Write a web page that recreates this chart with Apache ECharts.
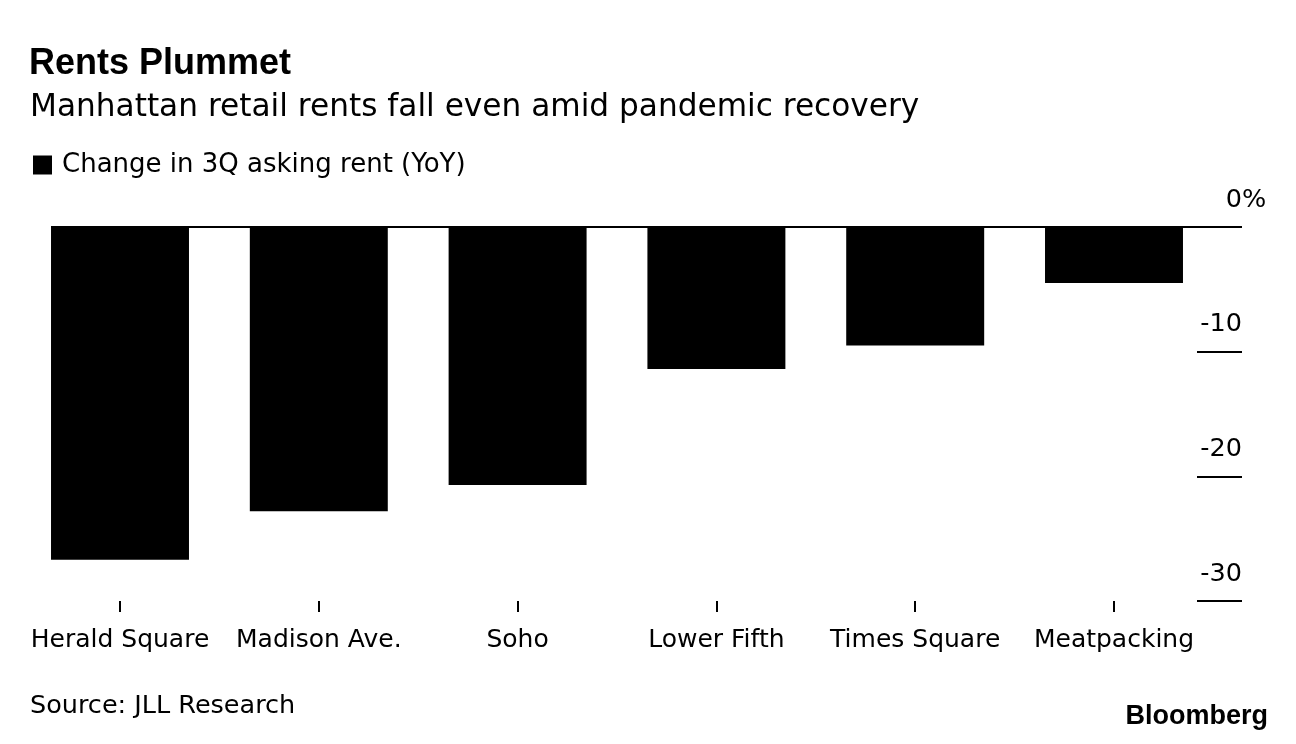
<!DOCTYPE html>
<html>
<head>
<meta charset="utf-8">
<script src="https://cdn.jsdelivr.net/npm/echarts@6/dist/echarts.min.js"></script>
<style>
html,body{margin:0;padding:0;background:#fff;}
#c{width:1296px;height:744px;}
</style>
</head>
<body>
<div id="c"></div>
<script>
const categories = ['Herald Square', 'Madison Ave.', 'Soho', 'Lower Fifth', 'Times Square', 'Meatpacking'];
const rentChange = [-26.7, -22.8, -20.7, -11.4, -9.5, -4.5];
const yTicks = { min: -30, max: 0, interval: 10 };
const seriesName = 'Change in 3Q asking rent (YoY)';

const BOLD = '"Liberation Sans", Arial, Helvetica, sans-serif';
const FONT = '"DejaVu Sans", "Liberation Sans", Arial, sans-serif';
const chart = echarts.init(document.getElementById('c'), null, { renderer: 'canvas' });

chart.setOption({
  animation: false,
  backgroundColor: '#fff',
  textStyle: { fontFamily: FONT, color: '#000' },
  title: [
    { text: 'Rents Plummet', left: 24, top: 41, textStyle: { fontFamily: BOLD, fontSize: 36, fontWeight: 'bold', color: '#000' } },
    { text: 'Manhattan retail rents fall even amid pandemic recovery', left: 25, top: 87, textStyle: { fontFamily: FONT, fontSize: 31.2, fontWeight: 'normal', color: '#000' } },
    { text: 'Source: JLL Research', left: 25, top: 688, textStyle: { fontFamily: FONT, fontSize: 25.5, fontWeight: 'normal', color: '#000' } },
    { text: 'Bloomberg', right: 23, top: 698, textStyle: { fontFamily: BOLD, fontSize: 27, fontWeight: 'bold', color: '#000' } }
  ],
  legend: {
    left: 28, top: 147, icon: 'rect', itemWidth: 19, itemHeight: 19,
    data: [seriesName],
    textStyle: { fontFamily: FONT, fontSize: 26, color: '#000', padding: [0, 0, 0, 5] },
    selectedMode: false
  },
  grid: { left: 20.6, right: 82.6, top: 227, bottom: 143, containLabel: false },
  xAxis: {
    type: 'category',
    data: categories,
    position: 'bottom',
    axisLine: { show: false, onZero: false },
    axisTick: { show: true, alignWithLabel: true, length: 11, lineStyle: { color: '#000', width: 2 } },
    axisLabel: { fontFamily: FONT, fontSize: 25, color: '#000', margin: 27, interval: 0 }
  },
  yAxis: {
    type: 'value',
    position: 'right',
    offset: -16.4,
    min: yTicks.min, max: yTicks.max, interval: yTicks.interval,
    axisLine: { show: false },
    splitLine: { show: false },
    axisTick: { show: true, inside: false, length: 45, lineStyle: { color: '#000', width: 2 } },
    axisLabel: {
      color: '#000', align: 'right', margin: 69,
      verticalAlign: 'bottom', padding: [0, 0, 14, 0],
      formatter: v => (v === 0 ? '{n|0}{s|%}' : '{n|' + v + '}{s| }'),
      rich: {
        n: { fontFamily: FONT, fontSize: 25.5, color: '#000', lineHeight: 26 },
        s: { fontFamily: FONT, fontSize: 25.5, color: '#000', lineHeight: 26, width: 24, align: 'left' }
      }
    }
  },
  series: [{
    name: seriesName,
    type: 'bar',
    data: rentChange,
    barCategoryGap: '30.6%',
    itemStyle: { color: '#000' },
    markLine: {
      silent: true, symbol: 'none', label: { show: false },
      lineStyle: { color: '#000', width: 2, type: 'solid' },
      data: [[{ yAxis: 0, x: 51 }, { yAxis: 0, x: 1197 }]]
    }
  }]
});
</script>
</body>
</html>
